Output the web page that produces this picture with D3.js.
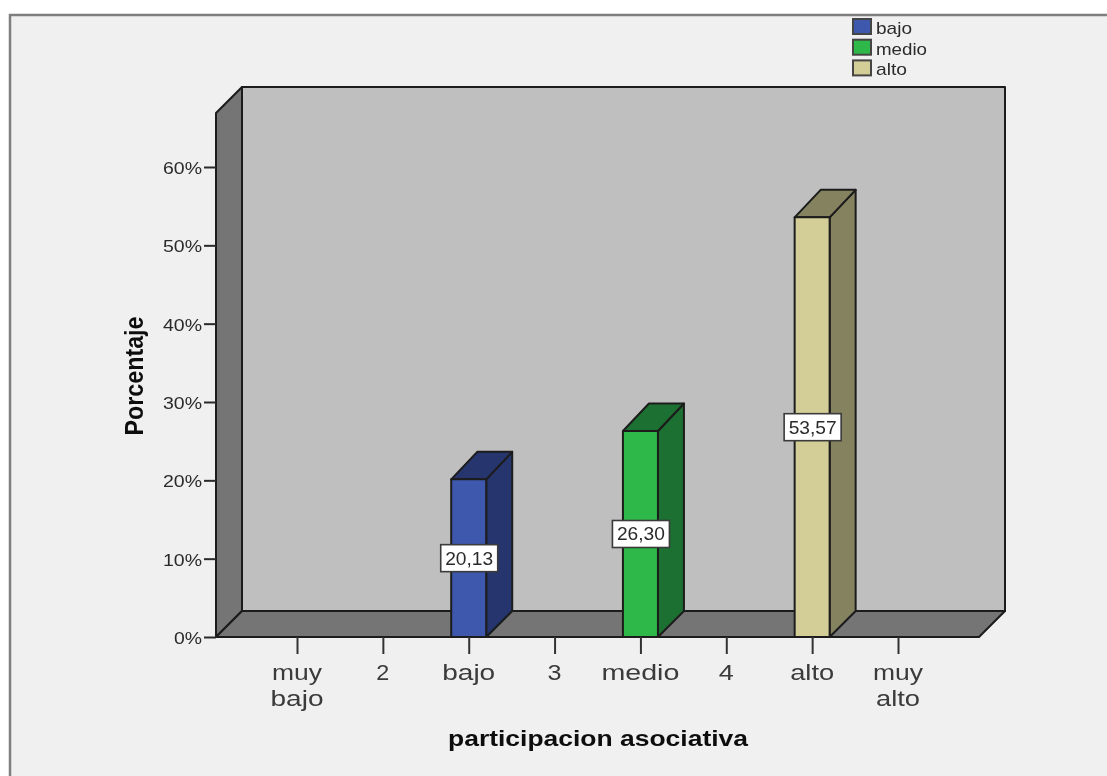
<!DOCTYPE html>
<html><head><meta charset="utf-8">
<script src="https://cdn.jsdelivr.net/npm/d3@7/dist/d3.min.js"></script>
<style>html,body{margin:0;padding:0;background:#fff}svg{display:block}text{font-family:"Liberation Sans",Arial,sans-serif;fill:#2b2b2b}</style>
</head><body><div id="c"></div>
<script>
const categories = ["muy bajo","2","bajo","3","medio","4","alto","muy alto"];
const barCategories = ["bajo","medio","alto"];
const barValues = [20.13,26.30,53.57];
const barLabels = ["20,13","26,30","53,57"];
const frontColors = ["#3e58ac","#2db84a","#d3ce97"];
const sideColors = ["#25366e","#1b7030","#85825f"];
const yTicks = [0,10,20,30,40,50,60];

const W=1107,H=776, depth=26, barDy=27.5, barW=35, ink="#1c1c1c";
const svg=d3.select("#c").append("svg").attr("width",W).attr("height",H);
const defs=svg.append("defs");
defs.append("filter").attr("id","soft").attr("x",0).attr("y",0).attr("width",1).attr("height",1)
  .append("feGaussianBlur").attr("stdDeviation",0.5);
const root=svg.append("g").attr("filter","url(#soft)");
root.append("rect").attr("width",W).attr("height",H).attr("fill","#fff");
root.append("rect").attr("x",10).attr("y",15).attr("width",W+20).attr("height",H+20)
  .attr("fill","#f0f0f0").attr("stroke","#7f7f7f").attr("stroke-width",2.5);

const x=d3.scalePoint().domain(categories).range([297,898]);
const y=d3.scaleLinear().domain([0,60]).range([637,167]);
const xL=216,xR=979,y0=y(0),yTop=113;
const poly=(pts,fill)=>root.append("polygon").attr("points",pts.map(p=>p.join(",")).join(" "))
  .attr("fill",fill).attr("stroke",ink).attr("stroke-width",2).attr("stroke-linejoin","round");

poly([[xL+depth,yTop-depth],[xR+depth,yTop-depth],[xR+depth,y0-depth],[xL+depth,y0-depth]],"#bfbfbf");
poly([[xL,yTop],[xL+depth,yTop-depth],[xL+depth,y0-depth],[xL,y0]],"#747474");
poly([[xL,y0],[xL+depth,y0-depth],[xR+depth,y0-depth],[xR,y0]],"#747474");

barCategories.forEach((c,i)=>{
  const a=x(c)-17.5, b=a+barW, t=y(barValues[i]);
  poly([[b,y0],[b+depth,y0-depth],[b+depth,t-barDy],[b,t]],sideColors[i]);
  poly([[a,t],[a+depth,t-barDy],[b+depth,t-barDy],[b,t]],sideColors[i]);
  poly([[a,y0],[b,y0],[b,t],[a,t]],frontColors[i]);
});

const stretchText=(g,tx,ty,str,size,len,anchor,weight)=>g.append("text")
  .attr("x",tx).attr("y",ty).attr("font-size",size).attr("font-weight",weight||null)
  .attr("text-anchor",anchor).attr("textLength",len).attr("lengthAdjust","spacingAndGlyphs").text(str);

// y axis
const yAxis=d3.axisLeft(y).tickValues(yTicks).tickSize(12).tickPadding(2).tickFormat(d=>d+"%");
const gy=root.append("g").attr("transform",`translate(${xL},0)`).call(yAxis);
gy.select(".domain").remove();
gy.selectAll("line").attr("stroke","#2b2b2b").attr("stroke-width",2);
gy.selectAll("text").attr("font-size",17).attr("dy","0.38em").attr("textLength",d=>d===0?28:39).attr("lengthAdjust","spacingAndGlyphs").attr("fill","#3a3a3a");

// x axis
const xAxis=d3.axisBottom(x).tickSize(17).tickFormat("");
const gx=root.append("g").attr("transform",`translate(0,${y0})`).call(xAxis);
gx.select(".domain").remove();
gx.selectAll("line").attr("stroke","#333").attr("stroke-width",2);
const xWidths={"muy":50,"bajo":53,"2":13,"3":14,"medio":78,"4":15,"alto":44};
categories.forEach(c=>{
  const label=root.append("text").attr("font-size",22.5).attr("text-anchor","middle").style("fill","#3a3a3a");
  c.split(" ").forEach((w,k)=>label.append("tspan").attr("x",x(c)).attr("y",679.5+k*26)
    .attr("textLength",xWidths[w]).attr("lengthAdjust","spacingAndGlyphs").text(w));
});

// value labels
barCategories.forEach((c,i)=>{
  const cy=y(barValues[i]/2);
  root.append("rect").attr("x",x(c)-28).attr("y",cy-13.5).attr("width",57).attr("height",27)
    .attr("fill","#fff").attr("stroke","#3a3a3a").attr("stroke-width",1.6);
  stretchText(root,x(c)+0.5,cy+6.5,barLabels[i],18,48,"middle");
});

// axis titles
stretchText(root,448,746,"participacion asociativa",22,300,"start","bold").style("fill","#111");
const yt=root.append("g").attr("transform","translate(143,376) rotate(-90)");
stretchText(yt,0,0,"Porcentaje",25,119,"middle","bold").style("fill","#111");

// legend
const legendWidths=[36,51,31];
barCategories.forEach((c,i)=>{
  const ly=19+i*20.7;
  root.append("rect").attr("x",853).attr("y",ly).attr("width",18).attr("height",15)
    .attr("fill",frontColors[i]).attr("stroke","#444").attr("stroke-width",2);
  stretchText(root,876,ly+15,c,17,legendWidths[i],"start");
});
</script></body></html>
